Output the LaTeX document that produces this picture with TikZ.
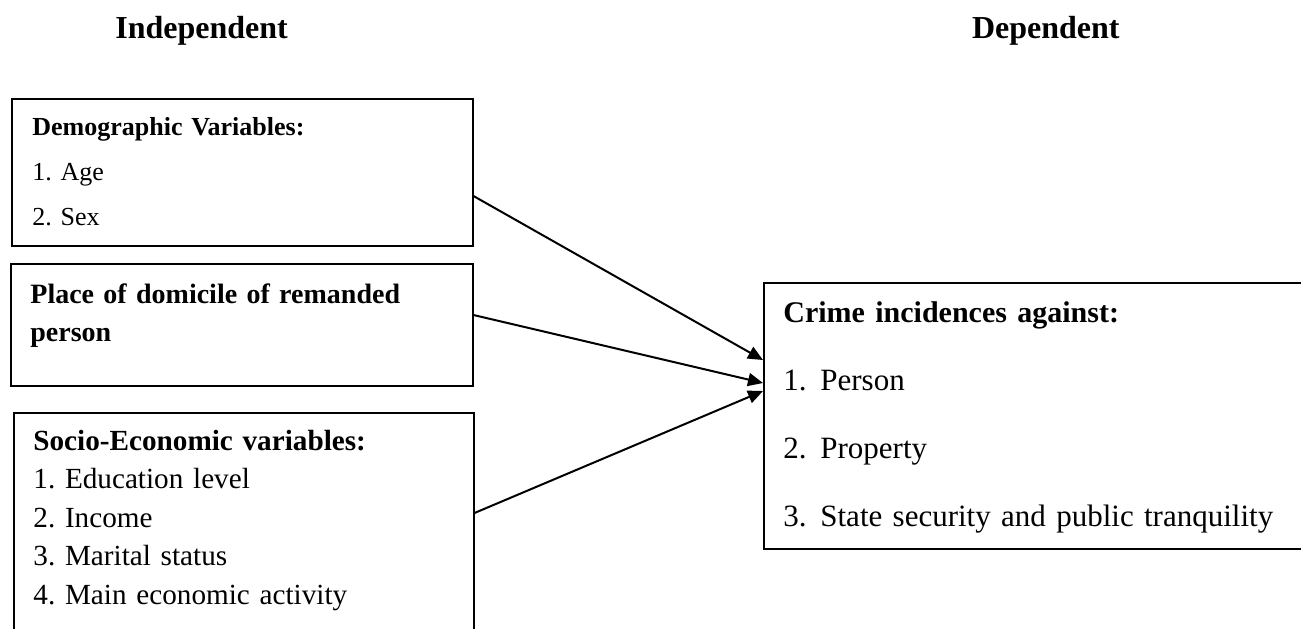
\documentclass[tikz,border=0pt]{standalone}
\usepackage{fontspec}
\setmainfont{Liberation Serif}
\usetikzlibrary{arrows.meta}
\tikzset{varbox/.style={draw, line width=0.75pt, inner sep=0pt, anchor=north west},
  vartext/.style={anchor=base west, inner sep=0pt, align=left},
  head/.style={font=\fontsize{16}{19}\selectfont\bfseries, inner sep=0pt},
  infl/.style={-{Triangle[length=7.5pt,width=6.5pt]}, line width=1pt}}
\newcommand{\itemno}[1]{\makebox[18.5pt][l]{#1}}
\frenchspacing

\begin{document}
\begin{tikzpicture}[x=0.5pt,y=-0.5pt]
\useasboundingbox (0,0) rectangle (1301,628);
\clip (0,0) rectangle (1301,628);
% column headings
\node[head, anchor=base west] (indep) at (115,38) {Independent};
\node[head, anchor=base east] (dep) at (1120,38) {Dependent};
% boxes
\node[varbox, minimum width=230.5pt, minimum height=73.5pt] (demo) at (11,98) {};
\node[varbox, minimum width=231pt, minimum height=61pt] (domicile) at (10,263) {};
\node[varbox, minimum width=230pt, minimum height=124pt] (socio) at (13,412) {};
\node[varbox, minimum width=280pt, minimum height=133pt] (crime) at (763,282) {};
% box texts
\node[vartext, text width=215pt, font=\fontsize{13}{22.5}\selectfont] (demotext) at (32,135)
  {\textbf{Demographic Variables:}\\1. Age\\2. Sex};
\node[vartext, text width=215pt, font=\fontsize{14}{19}\selectfont\bfseries] (domtext) at (30,303)
  {Place of domicile of remanded\\person};
\node[vartext, text width=215pt, font=\fontsize{14.6}{19.25}\selectfont] (sociotext) at (33,450)
  {\textbf{Socio-Economic variables:}\\1. Education level\\2. Income\\3. Marital status\\4. Main economic activity};
\node[vartext, text width=262pt, font=\fontsize{15.5}{34}\selectfont] (crimetext) at (783,322)
  {\textbf{\fontsize{15}{34}\selectfont Crime incidences against:}\\\itemno{1.}Person\\\itemno{2.}Property\\\itemno{3.}State security and public tranquility};
% arrows
\draw[infl] ([yshift=-49pt]demo.north east) -- ([yshift=-39pt]crime.north west);
\draw[infl] ([yshift=-26pt]domicile.north east) -- ([yshift=-50.5pt]crime.north west);
\draw[infl] ([yshift=-50.5pt]socio.north east) -- ([yshift=-54.5pt]crime.north west);
\end{tikzpicture}
\end{document}
